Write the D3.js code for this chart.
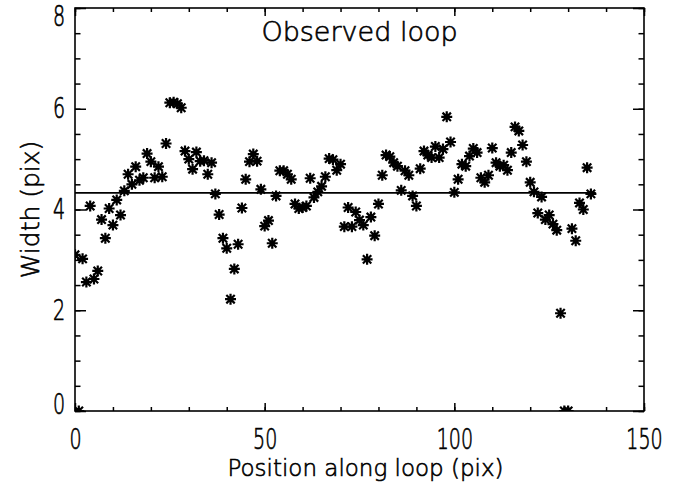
<!DOCTYPE html>
<html>
<head>
<meta charset="utf-8">
<script src="https://cdn.jsdelivr.net/npm/d3@7/dist/d3.min.js"></script>
<style>
  html, body { margin: 0; padding: 0; background: #fff; }
  svg { display: block; }
  .tick text { font-family: "DejaVu Sans", sans-serif; font-weight: 200; font-size: 28px; fill: #000; stroke: #000; stroke-width: 0.7px; }
  .lbl { font-family: "DejaVu Sans", sans-serif; font-weight: 200; fill: #000; stroke: #000; stroke-width: 0.6px; }
</style>
</head>
<body>
<script>
// ---- data ----
const widths = [
  3.10, 0.00, 3.02, 2.56, 4.07, 2.62, 2.78, 3.80, 3.43, 4.02,
  3.69, 4.19, 3.89, 4.37, 4.70, 4.50, 4.85, 4.58, 4.63, 5.11,
  4.95, 4.63, 4.85, 4.65, 5.31, 6.12, 6.13, 6.10, 6.02, 5.16,
  5.00, 4.80, 5.14, 4.96, 4.97, 4.70, 4.93, 4.31, 3.90, 3.43,
  3.23, 2.22, 2.82, 3.31, 4.03, 4.60, 4.95, 5.10, 4.96, 4.40,
  3.67, 3.78, 3.33, 4.27, 4.77, 4.77, 4.70, 4.60, 4.11, 4.02,
  4.04, 4.07, 4.62, 4.24, 4.35, 4.46, 4.65, 5.01, 4.99, 4.78,
  4.90, 3.66, 4.04, 3.66, 3.95, 3.79, 3.69, 3.01, 3.85, 3.48,
  4.11, 4.68, 5.08, 5.05, 4.93, 4.86, 4.38, 4.77, 4.68, 4.27,
  4.07, 4.81, 5.16, 5.08, 5.03, 5.25, 5.03, 5.20, 5.84, 5.34,
  4.34, 4.60, 4.90, 4.86, 5.06, 5.21, 5.13, 4.63, 4.54, 4.68,
  5.22, 4.93, 4.86, 4.88, 4.78, 5.13, 5.64, 5.56, 5.28, 4.95,
  4.54, 4.35, 3.93, 4.25, 3.80, 3.89, 3.71, 3.59, 1.94, 0.00,
  0.00, 3.62, 3.38, 4.13, 4.00, 4.83, 4.31
];
const positions = widths.map((_, i) => i);
const meanWidth = 4.33;
const meanLineX = [0, 137.3];
const xMajorTicks = [0, 50, 100, 150];
const yMajorTicks = [0, 2, 4, 6, 8];
const title = "Observed loop";
const xTitle = "Position along loop (pix)";
const yTitle = "Width (pix)";

// ---- layout ----
const W = 682, H = 482;
const L = 75, R = 644, T = 8, B = 411;
const narrow = 0.68;

const svg = d3.select("body").append("svg").attr("width", W).attr("height", H);
svg.append("rect").attr("width", W).attr("height", H).attr("fill", "#fff");

const x = d3.scaleLinear().domain([0, 150]).range([L, R]);
const y = d3.scaleLinear().domain([0, 8]).range([B, T]);

const xMinor = d3.range(0, 150.01, 10);
const yMinor = d3.range(0, 8.01, 0.5);

function styleAxis(g) {
  g.select(".domain").remove();
  g.selectAll(".tick line").attr("stroke", "#000").attr("stroke-width", 1.5);
}

// bottom
svg.append("g").attr("transform", `translate(0,${B})`)
  .call(d3.axisBottom(x).tickValues(xMinor).tickSize(-4).tickFormat("")).call(styleAxis);
const bAx = svg.append("g").attr("transform", `translate(0,${B})`)
  .call(d3.axisBottom(x).tickValues(xMajorTicks).tickSize(-8).tickPadding(18).tickFormat(d3.format("d"))).call(styleAxis);
bAx.selectAll(".tick text").attr("transform", `scale(${narrow},1)`);
// top
svg.append("g").attr("transform", `translate(0,${T})`)
  .call(d3.axisTop(x).tickValues(xMinor).tickSize(-4).tickFormat("")).call(styleAxis);
svg.append("g").attr("transform", `translate(0,${T})`)
  .call(d3.axisTop(x).tickValues(xMajorTicks).tickSize(-8).tickFormat("")).call(styleAxis);
// left
svg.append("g").attr("transform", `translate(${L},0)`)
  .call(d3.axisLeft(y).tickValues(yMinor).tickSize(-5.5).tickFormat("")).call(styleAxis);
const lAx = svg.append("g").attr("transform", `translate(${L},0)`)
  .call(d3.axisLeft(y).tickValues(yMajorTicks).tickSize(-11).tickPadding(10).tickFormat(d3.format("d"))).call(styleAxis);
lAx.selectAll(".tick text")
  .attr("x", -10 / narrow)
  .attr("transform", `scale(${narrow},1)`)
  .attr("dy", d => d === 8 ? "0.64em" : d === 0 ? "0.08em" : "0.32em");
// right
svg.append("g").attr("transform", `translate(${R},0)`)
  .call(d3.axisRight(y).tickValues(yMinor).tickSize(-5.5).tickFormat("")).call(styleAxis);
svg.append("g").attr("transform", `translate(${R},0)`)
  .call(d3.axisRight(y).tickValues(yMajorTicks).tickSize(-11).tickFormat("")).call(styleAxis);

// frame
svg.append("rect").attr("x", L).attr("y", T).attr("width", R - L).attr("height", B - T)
  .attr("fill", "none").attr("stroke", "#000").attr("stroke-width", 1.6);

// clip
svg.append("clipPath").attr("id", "clip").append("rect")
  .attr("x", L).attr("y", T).attr("width", R - L).attr("height", B - T);

const plot = svg.append("g").attr("clip-path", "url(#clip)");

// mean line
plot.append("line")
  .attr("x1", x(meanLineX[0])).attr("x2", x(meanLineX[1]))
  .attr("y1", y(meanWidth)).attr("y2", y(meanWidth))
  .attr("stroke", "#000").attr("stroke-width", 1.6);

// asterisks
const star = "M-5.5,0L5.5,0M0,-5.5L0,5.5M-4.2,-4.2L4.2,4.2M-4.2,4.2L4.2,-4.2";
plot.selectAll("path.pt").data(widths).join("path")
  .attr("class", "pt")
  .attr("d", star)
  .attr("transform", (d, i) => `translate(${x(positions[i])},${y(d)})`)
  .attr("fill", "none").attr("stroke", "#000").attr("stroke-width", 2.2);

// labels
svg.append("text").attr("class", "lbl").attr("x", (L + R) / 2).attr("y", 41)
  .attr("font-size", 27).attr("text-anchor", "middle").text(title);
svg.append("text").attr("class", "lbl").attr("x", (L + R) / 2 + 6).attr("y", 476)
  .attr("font-size", 23).attr("text-anchor", "middle").text(xTitle);
svg.append("text").attr("class", "lbl")
  .attr("transform", `translate(39,${(T + B) / 2}) rotate(-90)`)
  .attr("font-size", 25).attr("text-anchor", "middle").text(yTitle);
</script>
</body>
</html>
